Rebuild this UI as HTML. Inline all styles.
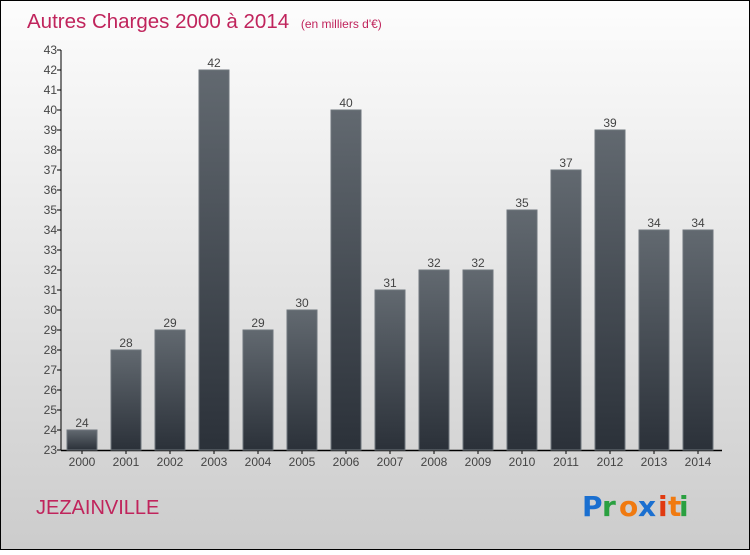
<!DOCTYPE html>
<html><head><meta charset="utf-8"><style>
html,body{margin:0;padding:0}
body{width:750px;height:550px;overflow:hidden;font-family:"Liberation Sans",sans-serif}
</style></head><body>
<svg width="750" height="550" xmlns="http://www.w3.org/2000/svg">
<defs>
<linearGradient id="bg" x1="0" y1="0" x2="0" y2="1"><stop offset="0" stop-color="#fdfdfd"/><stop offset="1" stop-color="#cccccc"/></linearGradient>
<linearGradient id="bar" x1="0" y1="0" x2="0" y2="1"><stop offset="0" stop-color="#626970"/><stop offset="1" stop-color="#2b3139"/></linearGradient>
</defs>
<rect x="0.5" y="0.5" width="749" height="549" fill="url(#bg)" stroke="#000"/>
<text x="27" y="28" font-size="20.5" fill="#c0245c">Autres Charges 2000 à 2014 <tspan font-size="12" dx="6">(en milliers d'€)</tspan></text>
<g id="axes"></g>
<g id="bars"></g>
<text x="36" y="514" font-size="20" fill="#c0245c">JEZAINVILLE</text>
<g font-size="28" font-weight="bold" font-family="'DejaVu Sans',sans-serif">
<text x="582" y="516" fill="#1a6fd0">P</text><text x="602" y="516" fill="#2aa040">r</text><text x="619" y="516" fill="#f07a10">o</text><text x="638" y="516" fill="#1a6fd0">x</text><text x="658" y="516" fill="#e03a10">i</text><text x="668" y="516" fill="#f07a10">t</text><text x="679" y="516" fill="#2aa040">i</text>
</g>
</svg>
<script>
const years=["2000","2001","2002","2003","2004","2005","2006","2007","2008","2009","2010","2011","2012","2013","2014"];
const values=[24,28,29,42,29,30,40,31,32,32,35,37,39,34,34];
const yTicks=[23,24,25,26,27,28,29,30,31,32,33,34,35,36,37,38,39,40,41,42,43];
const NS="http://www.w3.org/2000/svg";
const yMin=23,yMax=43,y0=450,y1=50,x0=61,band=44,bw=30;
const y=v=>y0-(v-yMin)/(yMax-yMin)*(y0-y1);
const xc=i=>x0+band/2-1+band*i;
function mk(t,a,p){const e=document.createElementNS(NS,t);for(const k in a)e.setAttribute(k,a[k]);p.appendChild(e);return e;}
const ax=document.getElementById('axes'),bg=document.getElementById('bars');
const yl=mk('line',{x1:x0,y1:y1,x2:x0,y2:y0,stroke:'#000','stroke-width':1},ax);


const xl=mk('line',{x1:x0,y1:y0+0.5,x2:722,y2:y0+0.5,stroke:'#000','stroke-width':1.5},ax);


yTicks.forEach(v=>{
 mk('line',{x1:x0-4,y1:y(v),x2:x0,y2:y(v),stroke:'#000'},ax);
 const t=mk('text',{x:x0-4,y:y(v)+4,'text-anchor':'end','font-size':12,fill:'#444'},ax);
 t.textContent=v;
 
 
});
years.forEach((yr,i)=>{
 const c=xc(i);
 mk('line',{x1:c,y1:y0,x2:c,y2:y0+4,stroke:'#000'},ax);
 const t=mk('text',{x:c,y:y0+16,'text-anchor':'middle','font-size':12,fill:'#444'},ax);
 t.textContent=yr;
 
 
 const r=mk('rect',{x:c-bw/2,y:y(values[i]),width:bw,height:y0-y(values[i]),fill:'url(#bar)',stroke:'#6f767d','stroke-width':1},bg);
 
 
 const l=mk('text',{x:c,y:y(values[i])-3,'text-anchor':'middle','font-size':12,fill:'#444'},bg);
 l.textContent=values[i];
 
 
});
</script>
</body></html>
